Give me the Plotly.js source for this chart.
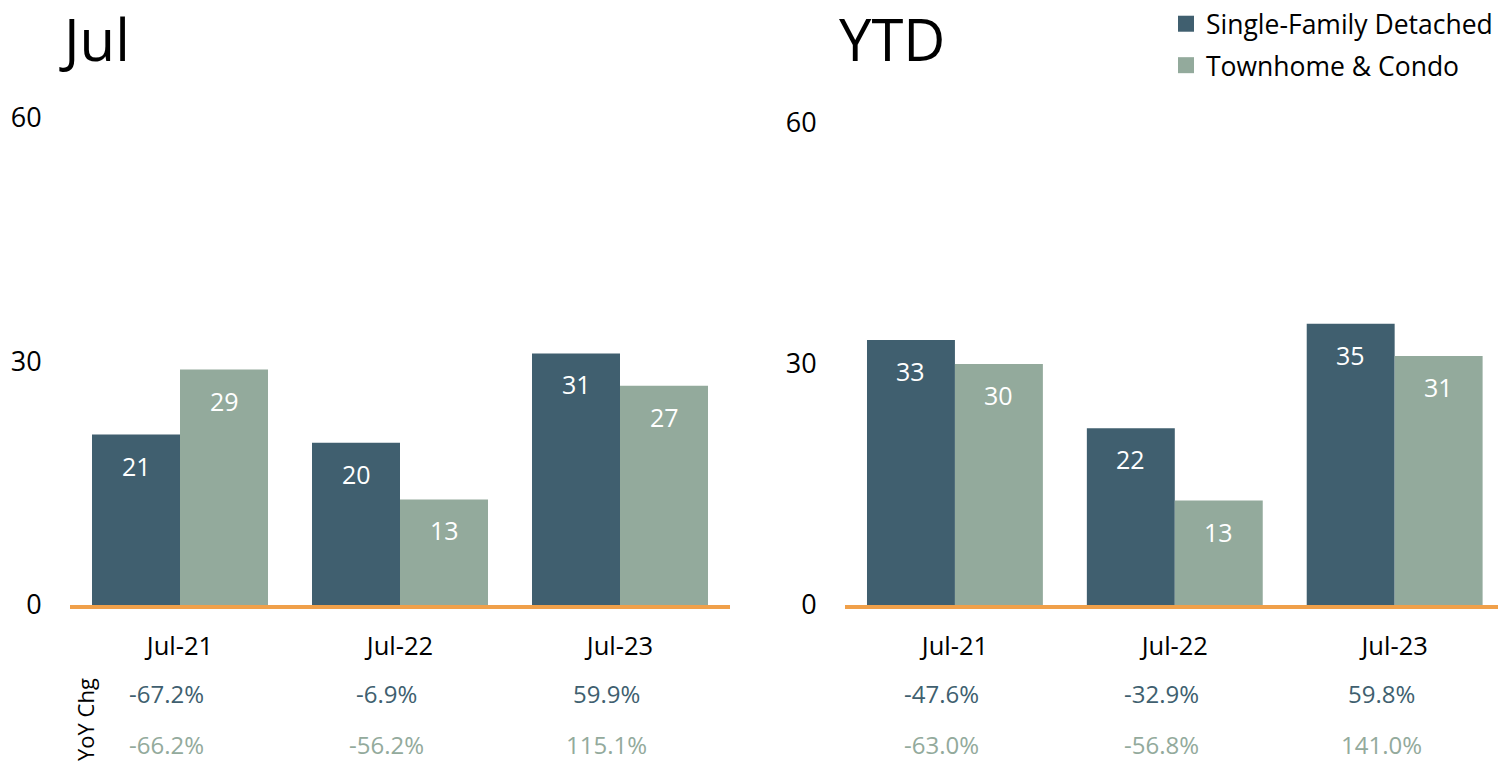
<!DOCTYPE html>
<html>
<head>
<meta charset="utf-8">
<script src="https://cdn.plot.ly/plotly-3.0.1.min.js"></script>
<style>
  html, body { margin: 0; padding: 0; background: #fff; }
  #chart { width: 1498px; height: 765px; }
</style>
</head>
<body>
<div id="chart"></div>
<script>
const categories = ['Jul-21', 'Jul-22', 'Jul-23'];
const seriesNames = ['Single-Family Detached', 'Townhome & Condo'];
const julSFD = [21, 20, 31];
const julTC = [29, 13, 27];
const ytdSFD = [33, 22, 35];
const ytdTC = [30, 13, 31];
const julSFDChg = ['-67.2%', '-6.9%', '59.9%'];
const julTCChg = ['-66.2%', '-56.2%', '115.1%'];
const ytdSFDChg = ['-47.6%', '-32.9%', '59.8%'];
const ytdTCChg = ['-63.0%', '-56.8%', '141.0%'];
const yTicks = [0, 30, 60];
const panelTitles = ['Jul', 'YTD'];

const DARK = '#405F6F';
const LIGHT = '#93AA9C';
const ORANGE = '#F0A04A';
const FONT = 'Open Sans, Noto Sans, sans-serif';

const traces = [
  {type: 'bar', x: categories, y: julSFD, name: seriesNames[0], marker: {color: DARK}, xaxis: 'x', yaxis: 'y', showlegend: false},
  {type: 'bar', x: categories, y: julTC, name: seriesNames[1], marker: {color: LIGHT}, xaxis: 'x', yaxis: 'y', showlegend: false},
  {type: 'bar', x: categories, y: ytdSFD, name: seriesNames[0], marker: {color: DARK}, xaxis: 'x2', yaxis: 'y2', showlegend: false},
  {type: 'bar', x: categories, y: ytdTC, name: seriesNames[1], marker: {color: LIGHT}, xaxis: 'x2', yaxis: 'y2', showlegend: false},
  // legend-only entries with larger square swatches
  {type: 'scatter', mode: 'markers', x: [null], y: [null], name: seriesNames[0], xaxis: 'x', yaxis: 'y',
    marker: {symbol: 'square', size: 16, color: DARK}, legendgroup: 'a'},
  {type: 'scatter', mode: 'markers', x: [null], y: [null], name: seriesNames[1], xaxis: 'x', yaxis: 'y',
    marker: {symbol: 'square', size: 16, color: LIGHT}, legendgroup: 'b'}
];

const annotations = [];
function barLabels(vals, xref, yref, off) {
  vals.forEach((v, i) => {
    annotations.push({xref: xref, yref: yref, x: i + off, y: v, yshift: -31, text: String(v),
      showarrow: false, xanchor: 'center', yanchor: 'middle', font: {family: FONT, size: 25, color: '#ffffff'}});
  });
}
barLabels(julSFD, 'x', 'y', -0.2);
barLabels(julTC, 'x', 'y', 0.2);
barLabels(ytdSFD, 'x2', 'y2', -0.2);
barLabels(ytdTC, 'x2', 'y2', 0.2);

function chgRow(vals, xref, ypx, color) {
  vals.forEach((t, i) => {
    annotations.push({xref: xref, yref: 'paper', x: i - 0.06, y: 1 - ypx / 765, text: t,
      showarrow: false, xanchor: 'center', yanchor: 'middle', font: {family: FONT, size: 24, color: color}});
  });
}
chgRow(julSFDChg, 'x', 693, DARK);
chgRow(julTCChg, 'x', 744, LIGHT);
chgRow(ytdSFDChg, 'x2', 693, DARK);
chgRow(ytdTCChg, 'x2', 744, LIGHT);

annotations.push({xref: 'paper', yref: 'paper', x: 57 / 1498, y: 1 - 38 / 765, text: panelTitles[0],
  showarrow: false, xanchor: 'left', yanchor: 'middle', font: {family: FONT, size: 58, color: '#000'}});
annotations.push({xref: 'paper', yref: 'paper', x: 837 / 1498, y: 1 - 38 / 765, text: panelTitles[1],
  showarrow: false, xanchor: 'left', yanchor: 'middle', font: {family: FONT, size: 58, color: '#000'}});
annotations.push({xref: 'paper', yref: 'paper', x: 85 / 1498, y: 1 - 720 / 765, text: 'YoY Chg', textangle: -90,
  showarrow: false, xanchor: 'center', yanchor: 'middle', font: {family: FONT, size: 22, color: '#000'}});

const xBase = {
  type: 'category', showgrid: false, zeroline: false, showline: true, linecolor: ORANGE, linewidth: 4,
  ticks: 'outside', ticklen: 15, tickcolor: 'rgba(0,0,0,0)', tickfont: {family: FONT, size: 25.5, color: '#000'}, fixedrange: true
};
const yBase = {
  range: [0, 60], tickvals: yTicks, showgrid: false, zeroline: false, showline: false,
  ticks: 'outside', ticklen: 22, tickcolor: 'rgba(0,0,0,0)', tickfont: {family: FONT, size: 27, color: '#000'}, fixedrange: true
};

const layout = {
  width: 1498, height: 765,
  margin: {l: 0, r: 0, t: 0, b: 0},
  paper_bgcolor: '#fff', plot_bgcolor: '#fff',
  barmode: 'group', bargap: 0.2, bargroupgap: 0,
  showlegend: true,
  legend: {x: 1, xanchor: 'right', y: 1, yanchor: 'top', orientation: 'v',
    font: {family: FONT, size: 26.5, color: '#000'}, bgcolor: 'rgba(0,0,0,0)', traceorder: 'grouped',
    tracegroupgap: 4, itemwidth: 30},
  xaxis: Object.assign({}, xBase, {domain: [70 / 1498, 730 / 1498], range: [-0.5, 2.5], anchor: 'y'}),
  yaxis: Object.assign({}, yBase, {domain: [1 - 605 / 765, 1 - 118 / 765], anchor: 'x'}),
  xaxis2: Object.assign({}, xBase, {domain: [845 / 1498, 1], range: [-0.5, 2.47], anchor: 'y2'}),
  yaxis2: Object.assign({}, yBase, {domain: [1 - 605 / 765, 1 - 123 / 765], anchor: 'x2'}),
  annotations: annotations,
  hovermode: false
};

Plotly.newPlot('chart', traces, layout, {displayModeBar: false, staticPlot: true});
</script>
</body>
</html>
